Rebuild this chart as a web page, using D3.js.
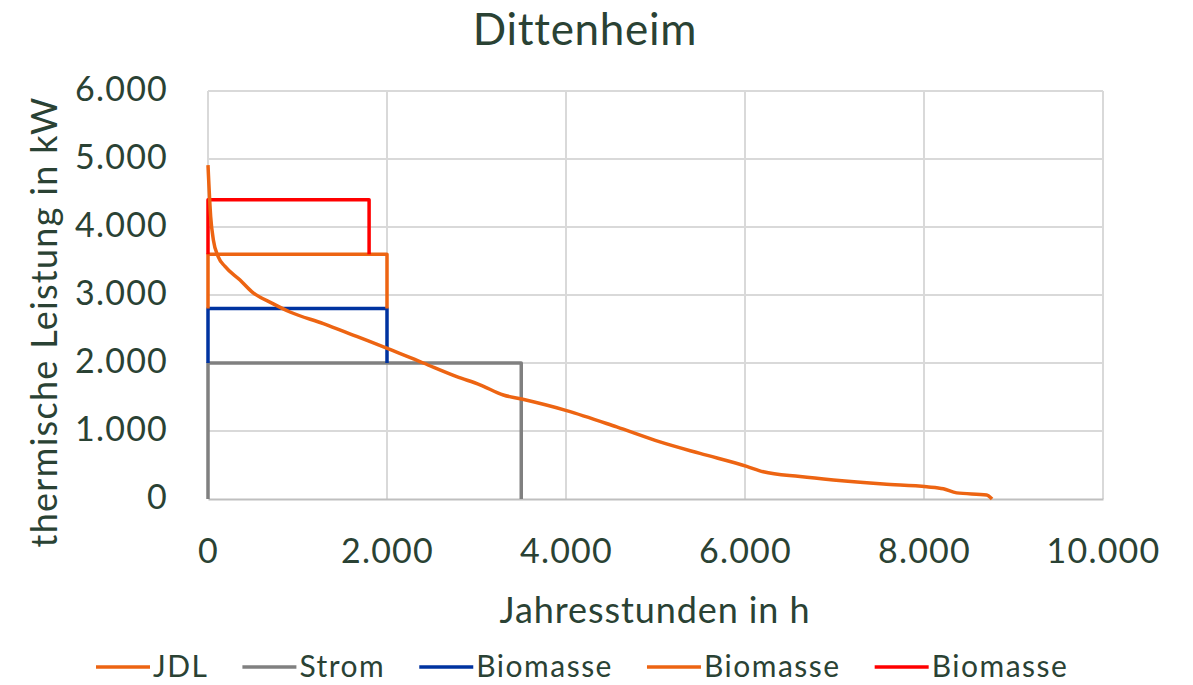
<!DOCTYPE html>
<html>
<head>
<meta charset="utf-8">
<script src="https://cdn.jsdelivr.net/npm/d3@7"></script>
<style>
  body { margin: 0; background: #fff; }
  text { font-family: Lato, "Open Sans", sans-serif; fill: #2a4234; }
</style>
</head>
<body>
<div id="chart"></div>
<script>
var
width = 1193,
height = 685,
x0 = 208, x1 = 1103, // plot area, px
y0 = 499, y1 = 91,
textCol = '#2a4234'
;

// data (h, kW)
var jdlHours = [0, 30, 60, 115, 190, 358, 488, 730, 916, 1289, 1661, 1996, 2406, 2779, 3039, 3300, 3505, 4007, 4566, 5050, 5497, 6019, 6205, 6615, 6987, 7546, 8030, 8216, 8365, 8700, 8760];
var jdlKW    = [4910, 4150, 3810, 3560, 3420, 3220, 3050, 2870, 2750, 2580, 2390, 2220, 2000, 1800, 1680, 1530, 1470, 1300, 1060, 840, 670, 480, 400, 330, 280, 220, 180, 150, 90, 60, 0];

var stromHours = [0, 0, 3500, 3500];
var stromKW    = [0, 2000, 2000, 0];
var bio1Hours  = [0, 0, 2000, 2000];
var bio1KW     = [2000, 2800, 2800, 2000];
var bio2Hours  = [0, 0, 2000, 2000];
var bio2KW     = [2800, 3600, 3600, 2800];
var bio3Hours  = [0, 0, 1800, 1800];
var bio3KW     = [3600, 4400, 4400, 3600];

var xTicks = [0, 2000, 4000, 6000, 8000, 10000];
var yTicks = [0, 1000, 2000, 3000, 4000, 5000, 6000];

var seriesNames  = ['JDL', 'Strom', 'Biomasse', 'Biomasse', 'Biomasse'];
var seriesColors = ['#ed6412', '#808080', '#0033a0', '#ed6412', '#ff0000'];

var series = [
  [jdlHours, jdlKW],
  [stromHours, stromKW],
  [bio1Hours, bio1KW],
  [bio2Hours, bio2KW],
  [bio3Hours, bio3KW]
].map(function(s, i){
  return {
    name: seriesNames[i],
    color: seriesColors[i],
    pts: s[0].map(function(h, j){ return [h, s[1][j]]; })
  };
});

var fmt = function(v){ return d3.format(',')(v).replace(/,/g, '.'); };

var x = d3.scaleLinear().domain([0, 10000]).range([x0, x1]);
var y = d3.scaleLinear().domain([0, 6000]).range([y0, y1]);

var svg = d3.select('#chart').append('svg').attr('width', width).attr('height', height);

// grid
svg.append('g').selectAll('line').data(yTicks.slice(1)).enter().append('line')
  .attr('x1', x0).attr('x2', x1)
  .attr('y1', function(d){ return y(d); }).attr('y2', function(d){ return y(d); })
  .attr('stroke', '#d9d9d9').attr('stroke-width', 2);
svg.append('g').selectAll('line').data(xTicks).enter().append('line')
  .attr('x1', function(d){ return x(d); }).attr('x2', function(d){ return x(d); })
  .attr('y1', y0).attr('y2', y1)
  .attr('stroke', '#d9d9d9').attr('stroke-width', 2);

// axes
var xAxis = svg.append('g').attr('transform', 'translate(0,' + y0 + ')')
  .call(d3.axisBottom(x).tickValues(xTicks).tickFormat(fmt).tickSize(0).tickPadding(40));
xAxis.select('.domain').attr('stroke', '#bfbfbf').attr('stroke-width', 2);

var yAxis = svg.append('g').attr('transform', 'translate(' + x0 + ',0)')
  .call(d3.axisLeft(y).tickValues(yTicks).tickFormat(fmt).tickSize(0).tickPadding(40));
yAxis.select('.domain').remove();
yAxis.selectAll('.tick text').attr('dy', '0.27em');

svg.selectAll('.tick text')
  .attr('font-family', 'Lato, "Open Sans", sans-serif')
  .attr('font-size', 34)
  .attr('letter-spacing', 1.2)
  .attr('fill', textCol);

// lines: rectangles first, then the JDL curve on top
var line = d3.line()
  .x(function(d){ return x(d[0]); })
  .y(function(d){ return y(d[1]); });

[1, 2, 3, 4, 0].forEach(function(i){
  var s = series[i];
  svg.append('path')
    .datum(s.pts)
    .attr('d', line.curve(i === 0 ? d3.curveMonotoneX : d3.curveLinear))
    .attr('fill', 'none')
    .attr('stroke', s.color)
    .attr('stroke-width', 3.5)
    .attr('stroke-linejoin', 'round');
});

// title
svg.append('text')
  .attr('x', 585).attr('y', 45)
  .attr('text-anchor', 'middle')
  .attr('font-size', 44)
  .attr('letter-spacing', 0.7)
  .text('Dittenheim');

// axis titles
svg.append('text')
  .attr('x', 655).attr('y', 623)
  .attr('text-anchor', 'middle')
  .attr('font-size', 36)
  .attr('letter-spacing', 0.9)
  .text('Jahresstunden in h');

svg.append('text')
  .attr('transform', 'translate(57,322) rotate(-90)')
  .attr('text-anchor', 'middle')
  .attr('font-size', 36)
  .attr('letter-spacing', 1.3)
  .text('thermische Leistung in kW');

// legend
var legend = svg.append('g');
var lx = 96;
series.forEach(function(s){
  var g = legend.append('g').attr('transform', 'translate(' + lx + ',667)');
  g.append('line').attr('x1', 0).attr('x2', 54).attr('y1', 0).attr('y2', 0)
    .attr('stroke', s.color).attr('stroke-width', 3.5);
  var t = g.append('text').attr('x', 57).attr('y', 10)
    .attr('font-size', 30).attr('letter-spacing', 1.5).text(s.name);
  lx += 57 + t.node().getComputedTextLength() + 34;
});
</script>
</body>
</html>
